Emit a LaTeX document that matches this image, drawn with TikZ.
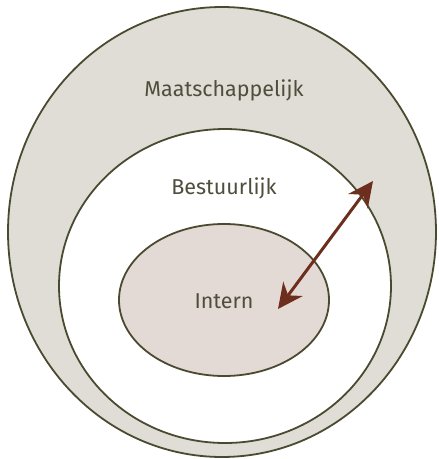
\documentclass[tikz,border=0pt]{standalone}
\usepackage{fontspec}
\setmainfont{Fira Sans}
\usepackage{tikz}
\usetikzlibrary{shapes.geometric, arrows.meta}
\definecolor{lijn}{HTML}{4A4A30}
\definecolor{tekst}{HTML}{4E4E3C}
\definecolor{grijs}{HTML}{E0DDD6}
\definecolor{roze}{HTML}{E3DAD5}
\definecolor{bruin}{HTML}{6E2E1E}
\tikzset{ring/.style={ellipse, draw=lijn, line width=1.8pt, inner sep=0pt},
         label text/.style={text=tekst, font=\fontsize{21.5}{25}\selectfont}}

\begin{document}
\begin{tikzpicture}[x=1pt, y=-1pt]

 \useasboundingbox (0,0) rectangle (439,459);

%Drawing the three levels
 \node[ring, fill=grijs, minimum width=428pt, minimum height=450pt] (Maat) at (222,232) {};
 \node[ring, fill=white, minimum width=332pt, minimum height=314pt] (Best) at (225,286) {};
 \node[ring, fill=roze, minimum width=210pt, minimum height=152pt] (Int) at (224,300) {};

%Labels
 \node[label text] (MaatLabel) at (224,90) {Maatschappelijk};
 \node[label text] (BestLabel) at (224,188) {Bestuurlijk};
 \node[label text] (IntLabel) at (224,301) {Intern};

%Arrow between levels
 \coordinate (ArrowEnd1) at (278,309);
 \coordinate (ArrowEnd2) at (373,181);
 \draw[{Stealth[length=25pt, width=24pt, inset=8pt]}-{Stealth[length=25pt, width=24pt, inset=8pt]}, color=bruin, line width=3pt] (ArrowEnd1)--(ArrowEnd2);

\end{tikzpicture}
\end{document}
